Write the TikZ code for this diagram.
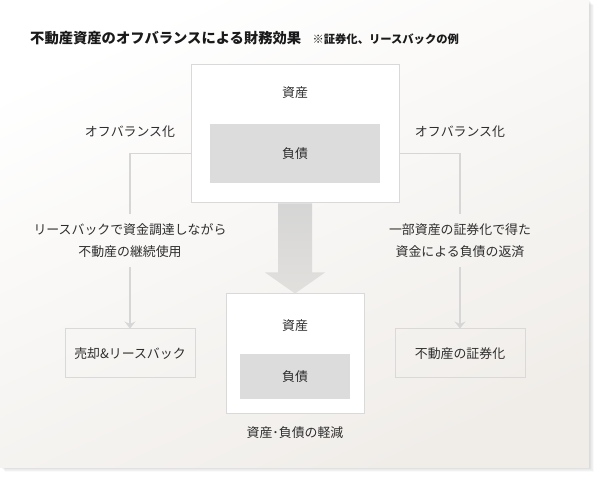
\documentclass[tikz,border=0pt]{standalone}
\usepackage{fontspec}
\setmainfont{Noto Sans CJK JP}
\usetikzlibrary{arrows.meta,calc}
\definecolor{panelB}{HTML}{F0EDE9}
\definecolor{boxline}{HTML}{D9D9D9}
\definecolor{innerfill}{HTML}{DCDCDC}
\definecolor{conn}{HTML}{D6D6D6}
\definecolor{txt}{HTML}{2E2E2E}
\definecolor{ttl}{HTML}{1A1A1A}
\definecolor{arrowA}{HTML}{D5D5D5}
\definecolor{arrowB}{HTML}{E2E0DD}
\begin{document}
\begin{tikzpicture}[x=1pt,y=-1pt,
  every node/.style={text=txt,font=\fontsize{12.9}{22}\selectfont},
  bigbox/.style={draw=boxline,line width=1pt,fill=white,inner sep=0pt},
  innerbox/.style={fill=innerfill,inner sep=0pt},
  sidebox/.style={draw=boxline,line width=1pt,fill=none,inner sep=0pt,minimum width=130pt,minimum height=49pt},
  lbl/.style={inner sep=0pt},
  midtext/.style={align=center,inner xsep=0pt,inner ysep=9.5pt},
  connline/.style={draw=conn,line width=1.6pt},
  connarrow/.style={connline,-{Stealth[length=7pt,width=11pt,inset=2.5pt]}}]
\useasboundingbox (0,0) rectangle (600,478);
% panel shadow
\foreach \d in {1,...,8}{
  \fill[black,opacity=0.02] (\d*0.6,\d*0.6) rectangle (589+\d*0.6,467+\d*0.6);
}
% panel
\shade[top color=white,bottom color=panelB,shading angle=25] (0,0) rectangle (589,467);
% title
\node[anchor=west,inner sep=0pt,text=ttl,font=\bfseries\fontsize{14.3}{17}\selectfont] (title) at (30,38) {不動産資産のオフバランスによる財務効果};
\node[anchor=west,inner sep=0pt,text=ttl,font=\bfseries\fontsize{11.3}{14}\selectfont] (sub) at ($(title.east)+(11,1)$) {※証券化、リースバックの例};
% top box
\node[bigbox,minimum width=208pt,minimum height=138pt] (top) at (295,134) {};
\node[lbl] (topA) at (295,93) {資産};
\node[innerbox,minimum width=170pt,minimum height=59pt] (topL) at (295,153.5) {負債};
% big arrow
\shade[top color=arrowA,bottom color=arrowB]
  ($(top.south)+(-17,0)$) -- ($(top.south)+(17,0)$) -- ($(top.south)+(17,69)$)
  -- ($(top.south)+(30,69)$) -- ($(top.south)+(0,90)$) -- ($(top.south)+(-30,69)$)
  -- ($(top.south)+(-17,69)$) -- cycle;
% bottom box
\node[bigbox,minimum width=138pt,minimum height=119pt] (bot) at (295,353.5) {};
\node[lbl] (botA) at (295,326) {資産};
\node[innerbox,minimum width=110pt,minimum height=45pt] (botL) at (295,376.5) {負債};
\node[lbl] (cap) at (295,433) {資産･負債の軽減};
% side boxes
\node[sidebox] (left) at (130,353.5) {売却\&リースバック};
\node[sidebox] (right) at (460,353.5) {不動産の証券化};
% labels
\node[lbl] (offL) at (130,132) {オフバランス化};
\node[lbl] (offR) at (460,132) {オフバランス化};
\node[midtext] (midL) at (130,240.5) {リースバックで資金調達しながら\\不動産の継続使用};
\node[midtext] (midR) at (460,240.5) {一部資産の証券化で得た\\資金による負債の返済};
% connectors
\draw[connline] (topL.west -| top.west) -| (midL.north);
\draw[connline] (topL.east -| top.east) -| (midR.north);
\draw[connarrow] (midL.south) -- (left.north);
\draw[connarrow] (midR.south) -- (right.north);
\end{tikzpicture}
\end{document}
